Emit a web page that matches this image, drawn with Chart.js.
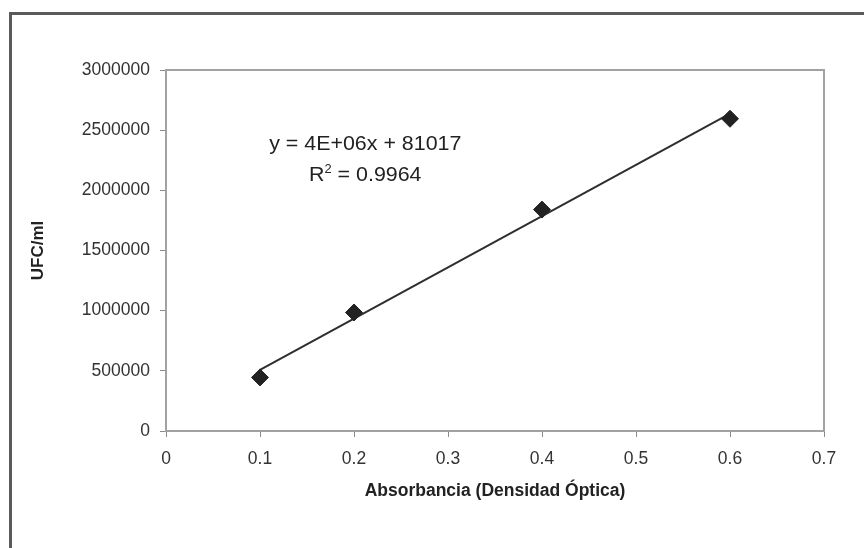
<!DOCTYPE html>
<html>
<head>
<meta charset="utf-8">
<script src="https://cdn.jsdelivr.net/npm/chart.js@4"></script>
<style>
  html, body { margin: 0; padding: 0; background: #fff; overflow: hidden; }
  #wrap { position: relative; width: 864px; height: 548px; }
  #frame {
    position: absolute; left: 9px; top: 12px; width: 900px; height: 600px;
    border: 3px solid #5a5a5a; box-sizing: border-box;
  }
  canvas { position: absolute; left: 0; top: 0; }
</style>
</head>
<body>
<div id="wrap">
  <div id="frame"></div>
  <canvas id="curveChart" width="864" height="548"></canvas>
</div>
<script>
// absorbance (x) vs UFC/ml (y)
const absorbance = [0.1, 0.2, 0.4, 0.6];
const ufc = [445000, 985000, 1840000, 2595000];

const xTickLabels = ["0", "0.1", "0.2", "0.3", "0.4", "0.5", "0.6", "0.7"];
const yTickLabels = ["0", "500000", "1000000", "1500000", "2000000", "2500000", "3000000"];

const equationText = "y = 4E+06x + 81017";
const r2Text = "0.9964";

// least squares trend line through the points
const n = absorbance.length;
const mx = absorbance.reduce((a, b) => a + b, 0) / n;
const my = ufc.reduce((a, b) => a + b, 0) / n;
let sxy = 0, sxx = 0;
absorbance.forEach((x, i) => {
  sxy += (x - mx) * (ufc[i] - my);
  sxx += (x - mx) * (x - mx);
});
const slope = sxy / sxx;
const intercept = my - slope * mx;
const xMin = Math.min(...absorbance), xMax = Math.max(...absorbance);
const trend = [
  { x: xMin, y: slope * xMin + intercept },
  { x: xMax, y: slope * xMax + intercept },
];

const FONT = "'Liberation Sans', Arial, sans-serif";

// plot frame + equation text
const extras = {
  id: "extras",
  beforeDatasetsDraw(chart) {
    const { ctx, chartArea: a } = chart;
    ctx.save();
    ctx.strokeStyle = "#a2a2a2";
    ctx.lineWidth = 2;
    ctx.strokeRect(a.left, a.top, a.right - a.left, a.bottom - a.top);
    ctx.restore();
  },
  afterDatasetsDraw(chart) {
    const { ctx } = chart;
    const x = chart.scales.x.getPixelForValue(0.212);
    const y1 = chart.scales.y.getPixelForValue(2333000);
    ctx.save();
    // text in the original is a bit wider than Arial
    ctx.translate(x, 0);
    ctx.scale(1.07, 1);
    ctx.fillStyle = "#222";
    ctx.textBaseline = "alphabetic";
    ctx.font = "20px " + FONT;
    ctx.textAlign = "center";
    ctx.fillText(equationText, 0, y1);

    // R² line with superscript
    const y2 = y1 + 31;
    const partR = "R", partRest = " = " + r2Text;
    const wR = ctx.measureText(partR).width;
    const wRest = ctx.measureText(partRest).width;
    ctx.font = "12px " + FONT;
    const wSup = ctx.measureText("2").width;
    let start = -(wR + wSup + wRest) / 2;
    ctx.textAlign = "left";
    ctx.font = "20px " + FONT;
    ctx.fillText(partR, start, y2);
    ctx.font = "12px " + FONT;
    ctx.fillText("2", start + wR, y2 - 8);
    ctx.font = "20px " + FONT;
    ctx.fillText(partRest, start + wR + wSup, y2);
    ctx.restore();
  },
};

const ctx = document.getElementById("curveChart").getContext("2d");
new Chart(ctx, {
  data: {
    datasets: [
      {
        type: "scatter",
        label: "UFC/ml",
        data: absorbance.map((x, i) => ({ x, y: ufc[i] })),
        pointStyle: "rectRot",
        pointRadius: 8.5,
        pointBackgroundColor: "#222",
        pointBorderColor: "#222",
        order: 1,
      },
      {
        type: "line",
        label: "Lineal",
        data: trend,
        borderColor: "#2e2e2e",
        borderWidth: 2,
        pointRadius: 0,
        fill: false,
        order: 2,
      },
    ],
  },
  options: {
    responsive: false,
    animation: false,
    devicePixelRatio: 1,
    layout: { padding: { left: 0, top: 70, right: 40, bottom: 0 } },
    plugins: {
      legend: { display: false },
      tooltip: { enabled: false },
    },
    scales: {
      x: {
        type: "linear",
        min: 0,
        max: 0.7,
        afterFit: (s) => { s.height = 117; },
        afterBuildTicks: (s) => {
          s.ticks = xTickLabels.map((t) => ({ value: parseFloat(t) }));
        },
        ticks: {
          callback: (v, i) => xTickLabels[i],
          color: "#333",
          font: { family: FONT, size: 17.5 },
          padding: 12,
          maxRotation: 0,
          autoSkip: false,
        },
        grid: { drawOnChartArea: false, tickLength: 6, color: "#8a8a8a", lineWidth: 1 },
        border: { color: "#8a8a8a", width: 2 },
        title: {
          display: true,
          text: "Absorbancia (Densidad Óptica)",
          color: "#222",
          font: { family: FONT, size: 17.5, weight: "bold" },
          padding: { top: 0, bottom: 46 },
        },
      },
      y: {
        type: "linear",
        min: 0,
        max: 3000000,
        afterFit: (s) => { s.width = 166; },
        afterBuildTicks: (s) => {
          s.ticks = yTickLabels.map((t) => ({ value: Number(t) }));
        },
        ticks: {
          callback: (v, i) => yTickLabels[i],
          color: "#333",
          font: { family: FONT, size: 17.5 },
          padding: 10,
          autoSkip: false,
        },
        grid: { drawOnChartArea: false, tickLength: 6, color: "#8a8a8a", lineWidth: 1 },
        border: { color: "#8a8a8a", width: 2 },
        title: {
          display: true,
          text: "UFC/ml",
          color: "#222",
          font: { family: FONT, size: 17, weight: "bold" },
          padding: { top: 28, bottom: 0 },
        },
      },
    },
  },
  plugins: [extras],
});
</script>
</body>
</html>
